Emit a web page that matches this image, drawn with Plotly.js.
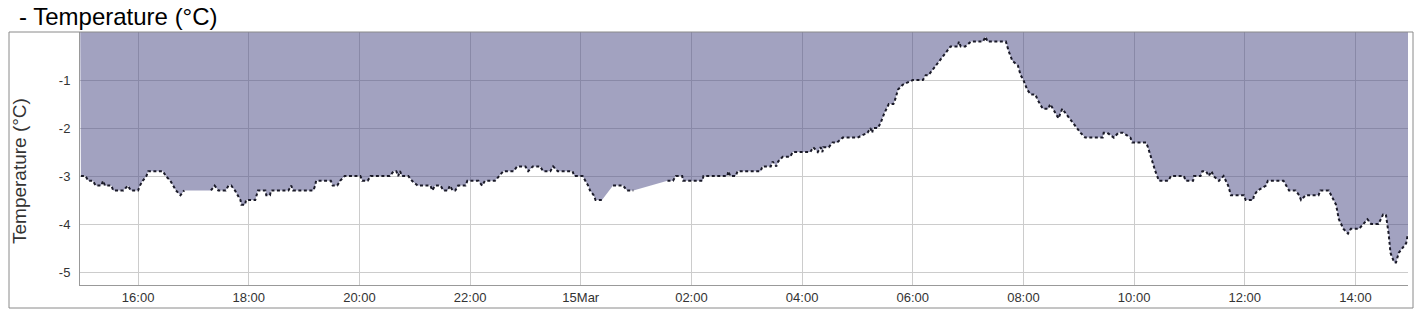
<!DOCTYPE html>
<html>
<head>
<meta charset="utf-8">
<script src="https://cdn.plot.ly/plotly-3.0.1.min.js"></script>
<style>
  html, body { margin: 0; padding: 0; background: #ffffff; }
  #chart { width: 1415px; height: 313px; }
</style>
</head>
<body>
<div id="chart"></div>
<script>
// ---- data ----
var times = [
  "2024-03-14 14:58","2024-03-14 15:03","2024-03-14 15:06","2024-03-14 15:11","2024-03-14 15:14","2024-03-14 15:20",
  "2024-03-14 15:22","2024-03-14 15:24","2024-03-14 15:31","2024-03-14 15:33","2024-03-14 15:44","2024-03-14 15:49",
  "2024-03-14 15:52","2024-03-14 16:00","2024-03-14 16:02","2024-03-14 16:05","2024-03-14 16:09","2024-03-14 16:11",
  "2024-03-14 16:22","2024-03-14 16:27","2024-03-14 16:30","2024-03-14 16:35","2024-03-14 16:38","2024-03-14 16:41",
  "2024-03-14 16:46","2024-03-14 16:50","2024-03-14 17:05","2024-03-14 17:19","2024-03-14 17:23","2024-03-14 17:27",
  "2024-03-14 17:35","2024-03-14 17:38","2024-03-14 17:41","2024-03-14 17:45","2024-03-14 17:48","2024-03-14 17:51",
  "2024-03-14 17:52","2024-03-14 17:56","2024-03-14 17:57","2024-03-14 18:07","2024-03-14 18:10","2024-03-14 18:18",
  "2024-03-14 18:19","2024-03-14 18:23","2024-03-14 18:24","2024-03-14 18:43","2024-03-14 18:46","2024-03-14 18:48",
  "2024-03-14 19:10","2024-03-14 19:12","2024-03-14 19:13","2024-03-14 19:29","2024-03-14 19:31","2024-03-14 19:36",
  "2024-03-14 19:39","2024-03-14 19:44","2024-03-14 20:01","2024-03-14 20:03","2024-03-14 20:09","2024-03-14 20:12",
  "2024-03-14 20:33","2024-03-14 20:37","2024-03-14 20:40","2024-03-14 20:42","2024-03-14 20:44","2024-03-14 20:46",
  "2024-03-14 20:53","2024-03-14 20:57","2024-03-14 21:03","2024-03-14 21:17","2024-03-14 21:19","2024-03-14 21:22",
  "2024-03-14 21:28","2024-03-14 21:31","2024-03-14 21:36","2024-03-14 21:38","2024-03-14 21:41","2024-03-14 21:44",
  "2024-03-14 21:47","2024-03-14 21:55","2024-03-14 21:57","2024-03-14 22:09","2024-03-14 22:13","2024-03-14 22:16",
  "2024-03-14 22:27","2024-03-14 22:31","2024-03-14 22:36","2024-03-14 22:47","2024-03-14 22:51","2024-03-14 23:00",
  "2024-03-14 23:03","2024-03-14 23:08","2024-03-14 23:16","2024-03-14 23:19","2024-03-14 23:27","2024-03-14 23:30",
  "2024-03-14 23:35","2024-03-14 23:51","2024-03-14 23:53",
  "2024-03-15 00:02","2024-03-15 00:05","2024-03-15 00:08","2024-03-15 00:10","2024-03-15 00:14","2024-03-15 00:16",
  "2024-03-15 00:23","2024-03-15 00:29","2024-03-15 00:35","2024-03-15 00:46","2024-03-15 00:50","2024-03-15 00:57",
  "2024-03-15 01:15","2024-03-15 01:34","2024-03-15 01:40","2024-03-15 01:43","2024-03-15 01:50","2024-03-15 01:51",
  "2024-03-15 02:12","2024-03-15 02:13","2024-03-15 02:39","2024-03-15 02:40","2024-03-15 02:42","2024-03-15 02:48",
  "2024-03-15 02:50","2024-03-15 03:15","2024-03-15 03:17","2024-03-15 03:26","2024-03-15 03:28","2024-03-15 03:32",
  "2024-03-15 03:34","2024-03-15 03:39","2024-03-15 03:47","2024-03-15 03:50","2024-03-15 04:09","2024-03-15 04:12",
  "2024-03-15 04:17","2024-03-15 04:20","2024-03-15 04:22","2024-03-15 04:23","2024-03-15 04:29","2024-03-15 04:33",
  "2024-03-15 04:38","2024-03-15 04:44","2024-03-15 05:00","2024-03-15 05:11","2024-03-15 05:14","2024-03-15 05:16",
  "2024-03-15 05:17","2024-03-15 05:22","2024-03-15 05:25","2024-03-15 05:27","2024-03-15 05:29","2024-03-15 05:34",
  "2024-03-15 05:39","2024-03-15 05:41","2024-03-15 05:44","2024-03-15 05:49","2024-03-15 06:00","2024-03-15 06:11",
  "2024-03-15 06:14","2024-03-15 06:17","2024-03-15 06:21","2024-03-15 06:25","2024-03-15 06:30","2024-03-15 06:33",
  "2024-03-15 06:38","2024-03-15 06:41","2024-03-15 06:49","2024-03-15 06:50","2024-03-15 06:52","2024-03-15 06:57",
  "2024-03-15 07:03","2024-03-15 07:16","2024-03-15 07:19","2024-03-15 07:21","2024-03-15 07:41","2024-03-15 07:44",
  "2024-03-15 07:48","2024-03-15 07:54","2024-03-15 07:57","2024-03-15 08:00","2024-03-15 08:04","2024-03-15 08:08",
  "2024-03-15 08:13","2024-03-15 08:15","2024-03-15 08:21","2024-03-15 08:27","2024-03-15 08:29","2024-03-15 08:32",
  "2024-03-15 08:35","2024-03-15 08:38","2024-03-15 08:42","2024-03-15 08:46","2024-03-15 08:49","2024-03-15 08:53",
  "2024-03-15 08:57","2024-03-15 09:02","2024-03-15 09:07","2024-03-15 09:26","2024-03-15 09:27","2024-03-15 09:31",
  "2024-03-15 09:38","2024-03-15 09:43","2024-03-15 09:48","2024-03-15 09:56","2024-03-15 09:58","2024-03-15 10:13",
  "2024-03-15 10:15","2024-03-15 10:18","2024-03-15 10:21","2024-03-15 10:23","2024-03-15 10:27","2024-03-15 10:37",
  "2024-03-15 10:40","2024-03-15 10:54","2024-03-15 10:56","2024-03-15 11:04","2024-03-15 11:05","2024-03-15 11:12",
  "2024-03-15 11:14","2024-03-15 11:18","2024-03-15 11:21","2024-03-15 11:24","2024-03-15 11:26","2024-03-15 11:32",
  "2024-03-15 11:37","2024-03-15 11:42","2024-03-15 11:45","2024-03-15 11:59","2024-03-15 12:01","2024-03-15 12:09",
  "2024-03-15 12:10","2024-03-15 12:14","2024-03-15 12:23","2024-03-15 12:25","2024-03-15 12:42","2024-03-15 12:48",
  "2024-03-15 12:55","2024-03-15 12:59","2024-03-15 13:01","2024-03-15 13:06","2024-03-15 13:20","2024-03-15 13:22",
  "2024-03-15 13:31","2024-03-15 13:39","2024-03-15 13:42","2024-03-15 13:47","2024-03-15 13:52","2024-03-15 13:55",
  "2024-03-15 14:04","2024-03-15 14:08","2024-03-15 14:13","2024-03-15 14:17","2024-03-15 14:25","2024-03-15 14:30",
  "2024-03-15 14:33","2024-03-15 14:36","2024-03-15 14:38","2024-03-15 14:42","2024-03-15 14:44","2024-03-15 14:47",
  "2024-03-15 14:51","2024-03-15 14:55","2024-03-15 14:57"
];
var temps = [
  -3.0,-3.0,-3.1,-3.1,-3.2,-3.2,
  -3.1,-3.2,-3.2,-3.3,-3.3,-3.2,
  -3.3,-3.3,-3.2,-3.1,-3.0,-2.9,
  -2.9,-2.9,-3.0,-3.1,-3.2,-3.3,
  -3.4,-3.3,null,-3.3,-3.2,-3.3,
  -3.3,-3.2,-3.2,-3.3,-3.4,-3.5,
  -3.6,-3.6,-3.5,-3.5,-3.3,-3.3,
  -3.4,-3.4,-3.3,-3.3,-3.2,-3.3,
  -3.3,-3.2,-3.1,-3.1,-3.2,-3.2,
  -3.1,-3.0,-3.0,-3.1,-3.1,-3.0,
  -3.0,-2.9,-2.9,-3.0,-2.9,-3.0,
  -3.0,-3.1,-3.2,-3.2,-3.3,-3.2,
  -3.2,-3.3,-3.3,-3.2,-3.3,-3.3,
  -3.2,-3.2,-3.1,-3.1,-3.2,-3.1,
  -3.1,-3.0,-2.9,-2.9,-2.8,-2.8,
  -2.9,-2.8,-2.8,-2.9,-2.9,-2.8,
  -2.9,-2.9,-3.0,
  -3.0,-3.1,-3.2,-3.3,-3.4,-3.5,
  -3.5,null,-3.2,-3.2,-3.3,-3.3,
  null,-3.1,-3.1,-3.0,-3.0,-3.1,
  -3.1,-3.0,-3.0,-2.9,-3.0,-3.0,
  -2.9,-2.9,-2.8,-2.8,-2.7,-2.8,
  -2.7,-2.6,-2.6,-2.5,-2.5,-2.4,
  -2.5,-2.4,-2.5,-2.4,-2.4,-2.3,
  -2.3,-2.2,-2.2,-2.1,-2.0,-2.1,
  -2.0,-2.0,-1.9,-1.8,-1.7,-1.5,
  -1.5,-1.4,-1.2,-1.1,-1.0,-1.0,
  -0.9,-0.9,-0.8,-0.7,-0.6,-0.5,
  -0.4,-0.3,-0.3,-0.2,-0.3,-0.3,
  -0.2,-0.2,-0.1,-0.2,-0.2,-0.4,
  -0.6,-0.7,-0.9,-1.0,-1.2,-1.3,
  -1.3,-1.4,-1.6,-1.6,-1.5,-1.6,
  -1.7,-1.8,-1.6,-1.7,-1.8,-1.9,
  -2.0,-2.1,-2.2,-2.2,-2.1,-2.1,
  -2.2,-2.1,-2.1,-2.2,-2.3,-2.3,
  -2.4,-2.6,-2.8,-2.9,-3.1,-3.1,
  -3.0,-3.0,-3.1,-3.1,-3.0,-3.0,
  -2.9,-2.9,-3.0,-2.9,-3.0,-3.1,
  -3.0,-3.2,-3.4,-3.4,-3.5,-3.5,
  -3.4,-3.3,-3.2,-3.1,-3.1,-3.3,
  -3.3,-3.4,-3.5,-3.4,-3.4,-3.3,
  -3.3,-3.6,-3.9,-4.1,-4.2,-4.1,
  -4.1,-4.0,-3.9,-4.0,-4.0,-3.8,
  -3.8,-4.2,-4.6,-4.8,-4.8,-4.6,
  -4.5,-4.4,-4.2
];
var xRange = ["2024-03-14 14:57", "2024-03-15 14:57"];
var yRange = [-5.27, 0];
var tickTimes = ["2024-03-14 16:00","2024-03-14 18:00","2024-03-14 20:00","2024-03-14 22:00","2024-03-15 00:00",
                 "2024-03-15 02:00","2024-03-15 04:00","2024-03-15 06:00","2024-03-15 08:00","2024-03-15 10:00",
                 "2024-03-15 12:00","2024-03-15 14:00"];
var tickLabels = ["16:00","18:00","20:00","22:00","15Mar","02:00","04:00","06:00","08:00","10:00","12:00","14:00"];
var yTicks = [-1, -2, -3, -4, -5];
var chartTitle = "- Temperature (°C)";
var yTitle = "Temperature (°C)";

var FONT = "Liberation Sans, Arial, Helvetica, sans-serif";

var topEdge = {
  x: xRange, y: [1, 1], mode: "lines", line: {width: 0, color: "rgba(0,0,0,0)"},
  hoverinfo: "skip", showlegend: false
};
var fillTrace = {
  x: times, y: temps, mode: "lines", connectgaps: true,
  fill: "tonexty", fillcolor: "rgba(70,70,130,0.5)",
  line: {width: 0, color: "rgba(0,0,0,0)"}, hoverinfo: "skip", showlegend: false
};
var dotTrace = {
  x: times, y: temps, mode: "lines", connectgaps: false,
  line: {width: 2, color: "#1a1a28", dash: "3px,2.5px"},
  hoverinfo: "skip", showlegend: false
};

var layout = {
  width: 1415, height: 313,
  margin: {l: 80, r: 7, t: 32, b: 28, pad: 0},
  paper_bgcolor: "#ffffff", plot_bgcolor: "#ffffff",
  font: {family: FONT, size: 13, color: "#333"},
  showlegend: false, hovermode: false,
  title: {
    text: chartTitle, font: {family: FONT, size: 24, color: "#000"},
    xref: "container", yref: "container", x: 19 / 1415, xanchor: "left",
    y: 1 - 17 / 313, yanchor: "middle"
  },
  xaxis: {
    type: "date", range: xRange, tickvals: tickTimes, ticktext: tickLabels,
    showgrid: true, gridcolor: "#cccccc", gridwidth: 1,
    showline: true, linecolor: "#999999", linewidth: 1,
    ticks: "", tickfont: {family: FONT, size: 13, color: "#333"},
    zeroline: false, fixedrange: true
  },
  yaxis: {
    range: yRange, tickvals: yTicks, ticktext: yTicks.map(String),
    showgrid: true, gridcolor: "#cccccc", gridwidth: 1,
    showline: true, linecolor: "#999999", linewidth: 1,
    ticks: "", ticklabelstandoff: 6, tickfont: {family: FONT, size: 13, color: "#333"},
    zeroline: false, fixedrange: true
  },
  annotations: [
    {text: yTitle, textangle: -90, xref: "paper", yref: "paper",
     x: -60 / 1328, xanchor: "center", y: (285 - 171) / 253, yanchor: "middle",
     showarrow: false, font: {family: FONT, size: 19, color: "#333"}}
  ],
  shapes: [
    {type: "rect", xref: "paper", yref: "paper",
     x0: -71 / 1328, x1: 1 + 5 / 1328, y0: -23 / 253, y1: 1,
     line: {color: "#8a8a8a", width: 1}, fillcolor: "rgba(0,0,0,0)", layer: "above"}
  ]
};

Plotly.newPlot("chart", [topEdge, fillTrace, dotTrace], layout, {staticPlot: true, displayModeBar: false});
</script>
</body>
</html>
